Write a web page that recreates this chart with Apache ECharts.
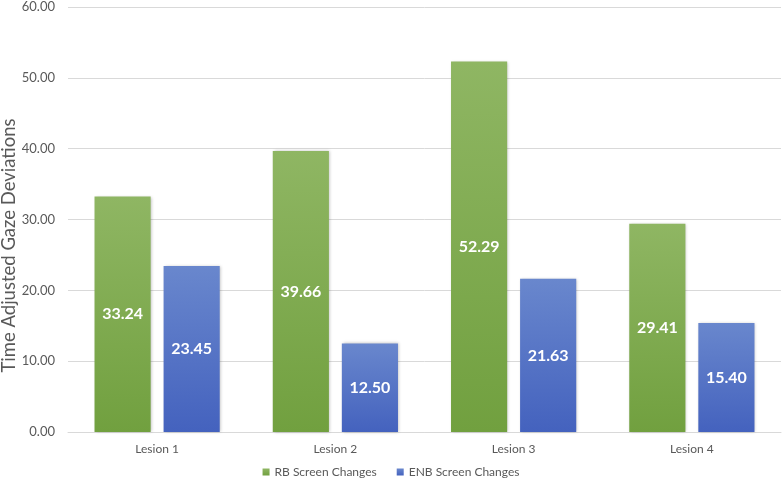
<!DOCTYPE html>
<html>
<head>
<meta charset="utf-8">
<script src="https://cdn.jsdelivr.net/npm/echarts@6/dist/echarts.min.js"></script>
<style>html,body{margin:0;padding:0;background:#fff}#c{width:782px;height:485px}</style>
</head>
<body>
<div id="c"></div>
<script>
var categories = ["Lesion 1", "Lesion 2", "Lesion 3", "Lesion 4"];
var rbValues = [33.24, 39.66, 52.29, 29.41];
var enbValues = [23.45, 12.50, 21.63, 15.40];
var seriesNames = ["RB Screen Changes", "ENB Screen Changes"];
var yTitle = "Time Adjusted Gaze Deviations";

var chart = echarts.init(document.getElementById('c'), null, {renderer: 'canvas'});
var font = 'Lato, "Open Sans", sans-serif';
function grad(top, bottom) {
  return new echarts.graphic.LinearGradient(0, 0, 0, 1, [
    {offset: 0, color: top}, {offset: 1, color: bottom}
  ]);
}
var labelCfg = {
  show: true, position: 'inside', color: '#ffffff', fontWeight: 'bold',
  fontSize: 16, fontFamily: font,
  formatter: function (p) { return p.value.toFixed(2); }
};
chart.setOption({
  animation: false,
  backgroundColor: '#ffffff',
  textStyle: {fontFamily: font},
  grid: {left: 68, right: 1, top: 7, bottom: 53, containLabel: false, outerBoundsMode: 'none'},
  legend: {
    bottom: 2, left: 'center', itemWidth: 7, itemHeight: 7, itemGap: 20,
    icon: 'rect',
    textStyle: {color: '#595959', fontSize: 12, fontFamily: font},
    data: seriesNames
  },
  xAxis: {
    type: 'category', data: categories,
    axisLine: {lineStyle: {color: '#d9d9d9'}},
    axisTick: {show: false},
    axisLabel: {color: '#595959', fontSize: 12, margin: 11, fontFamily: font}
  },
  yAxis: {
    type: 'value', min: 0, max: 60, interval: 10,
    name: yTitle, nameLocation: 'middle', nameGap: 49, nameMoveOverlap: false,
    nameTextStyle: {color: '#595959', fontSize: 18.5, fontFamily: font, padding: [0, 52, 0, 0]},
    axisLine: {show: false}, axisTick: {show: false},
    axisLabel: {color: '#595959', fontSize: 13, margin: 13, fontFamily: font,
      formatter: function (v) { return v.toFixed(2); }},
    splitLine: {lineStyle: {color: '#d9d9d9'}}
  },
  series: [
    {
      name: seriesNames[0], type: 'bar', data: rbValues,
      barWidth: '31.5%', barGap: '23%',
      itemStyle: {color: grad('#8fb663', '#71a03f'),
        shadowBlur: 3, shadowOffsetX: 1, shadowOffsetY: 0, shadowColor: 'rgba(0,0,0,0.25)'},
      label: labelCfg
    },
    {
      name: seriesNames[1], type: 'bar', data: enbValues,
      barWidth: '31.5%', barGap: '23%',
      itemStyle: {color: grad('#6987cd', '#4462be'),
        shadowBlur: 3, shadowOffsetX: 1, shadowOffsetY: 0, shadowColor: 'rgba(0,0,0,0.25)'},
      label: labelCfg
    }
  ]
});
</script>
</body>
</html>
